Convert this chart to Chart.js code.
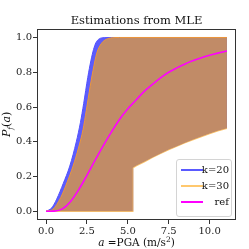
<!DOCTYPE html>
<html>
<head>
<meta charset="utf-8">
<script src="https://cdn.jsdelivr.net/npm/chart.js@4.4.1/dist/chart.umd.min.js"></script>
<style>
  html, body { margin: 0; padding: 0; background: #fff; }
  #wrap { position: relative; width: 249px; height: 249px; }
  #legend {
    position: absolute; left: 176px; top: 159px; width: 56px; height: 58px;
    box-sizing: border-box; border: 1px solid #d4d4d4; border-radius: 3px;
    background: rgba(255, 255, 255, 0.8);
    font-family: "DejaVu Serif"; font-size: 10px; color: #111;
  }
  .row { position: absolute; left: 0; right: 0; height: 12px; }
  .row .ln { position: absolute; left: 4px; width: 22px; height: 2px; top: 5px; }
  .row .tx { position: absolute; right: 2px; top: 0; line-height: 12px; }
</style>
</head>
<body>
<div id="wrap">
  <canvas id="chart" width="249" height="249"></canvas>
  <div id="legend"></div>
</div>
<script>
// reference curve
const xRef = [0, 0.5, 1, 1.5, 2, 2.5, 3, 3.5, 4, 4.5, 5, 5.5, 6, 6.5, 7, 7.5, 8, 8.5, 9, 9.5, 10, 10.5, 11.06];
const pRef = [0, 0.001, 0.014, 0.057, 0.125, 0.207, 0.294, 0.378, 0.457, 0.53, 0.59, 0.64, 0.69, 0.73, 0.768, 0.8, 0.825, 0.848, 0.867, 0.884, 0.898, 0.91, 0.922];

// k=20 band
const xUp20 = [0, 0.35, 0.65, 1.05, 1.45, 1.85, 2.1, 2.3, 2.55, 2.75, 2.9, 3.05, 3.25, 3.55, 4.0, 11.06];
const pUp20 = [0, 0.02, 0.07, 0.16, 0.26, 0.40, 0.51, 0.62, 0.77, 0.87, 0.93, 0.97, 0.992, 0.999, 1, 1];
const xLow20 = [0, 5.3, 5.3, 5.5, 6.0, 6.5, 7.0, 7.5, 8.0, 8.5, 9.0, 9.5, 10.0, 10.5, 11.06];
const pLow20 = [0, 0, 0.252, 0.264, 0.287, 0.312, 0.335, 0.357, 0.377, 0.397, 0.415, 0.432, 0.449, 0.465, 0.48];

// k=30 band
const xUp30 = [0, 0.4, 0.9, 1.3, 1.65, 2.0, 2.26, 2.46, 2.7, 2.87, 3.1, 3.38, 3.6, 3.93, 4.5, 11.06];
const pUp30 = [0, 0.01, 0.08, 0.17, 0.26, 0.37, 0.47, 0.58, 0.72, 0.81, 0.91, 0.965, 0.985, 0.997, 1, 1];
const xLow30 = [0, 5.3, 5.3, 5.5, 6.0, 6.5, 7.0, 7.5, 8.0, 8.5, 9.0, 9.5, 10.0, 10.5, 11.06];
const pLow30 = [0, 0, 0.25, 0.262, 0.285, 0.31, 0.333, 0.355, 0.375, 0.395, 0.413, 0.43, 0.447, 0.463, 0.478];

const xTicks = [0, 2.5, 5, 7.5, 10];
const yTicks = [0, 0.2, 0.4, 0.6, 0.8, 1.0];
const legendLabels = ["k=20", "k=30", "ref"];
const legendColors = ["rgb(90,90,255)", "rgb(255,200,110)", "rgb(255,0,255)"];

const pts = (xs, ys) => xs.map((x, i) => ({ x: x, y: ys[i] }));
const serif = "DejaVu Serif";

// frame + axis titles with math-like styling
const decorations = {
  id: "decorations",
  afterDatasetsDraw(chart) {
    const { ctx, chartArea: a } = chart;
    ctx.save();
    ctx.strokeStyle = "#333";
    ctx.lineWidth = 1;
    ctx.strokeRect(Math.round(a.left) + 0.5, Math.round(a.top) + 0.5,
      Math.round(a.right - a.left) - 1, Math.round(a.bottom - a.top) - 1);
    ctx.restore();
  },
  afterDraw(chart) {
    const { ctx, chartArea: a } = chart;
    ctx.save();
    ctx.fillStyle = "#111";
    ctx.textBaseline = "alphabetic";

    // x title: a =PGA (m/s^2)
    const it = "italic 10.5px " + serif, rm = "10.5px " + serif, sm = "7.5px " + serif;
    const parts = [[it, "a", 0], [rm, " =PGA (m/s", 0], [sm, "2", -4], [rm, ")", 0]];
    let w = 0;
    parts.forEach(p => { ctx.font = p[0]; w += ctx.measureText(p[1]).width; });
    let x = (a.left + a.right) / 2 - w / 2;
    parts.forEach(p => { ctx.font = p[0]; ctx.fillText(p[1], x, 246 + p[2]); x += ctx.measureText(p[1]).width; });

    // y title: P_f(a)
    const yp = [["italic 11px " + serif, "P", 0], ["italic 7.5px " + serif, "f", 2.5],
      ["11px " + serif, "(", 0], ["italic 11px " + serif, "a", 0], ["11px " + serif, ")", 0]];
    w = 0;
    yp.forEach(p => { ctx.font = p[0]; w += ctx.measureText(p[1]).width; });
    ctx.translate(10, (a.top + a.bottom) / 2);
    ctx.rotate(-Math.PI / 2);
    x = -w / 2;
    yp.forEach(p => { ctx.font = p[0]; ctx.fillText(p[1], x, p[2]); x += ctx.measureText(p[1]).width; });
    ctx.restore();
  }
};

new Chart(document.getElementById("chart"), {
  type: "line",
  data: {
    datasets: [
      {
        label: "ref", data: pts(xRef, pRef), borderColor: "rgb(255,0,255)", borderWidth: 1.6,
        pointRadius: 0, fill: false, cubicInterpolationMode: "monotone", order: 0
      },
      {
        label: "k=30", data: pts(xUp30, pUp30), borderColor: "rgb(235,150,60)", borderWidth: 1,
        backgroundColor: "rgb(193,139,103)", pointRadius: 0, fill: 2,
        cubicInterpolationMode: "monotone", order: 1
      },
      {
        label: "k=30 low", data: pts(xLow30, pLow30), borderColor: "rgb(255,200,110)", borderWidth: 1.5,
        pointRadius: 0, fill: false, tension: 0, order: 1
      },
      {
        label: "k=20", data: pts(xUp20, pUp20), borderColor: "rgb(80,80,255)", borderWidth: 1,
        backgroundColor: "rgb(92,92,252)", pointRadius: 0, fill: 4,
        cubicInterpolationMode: "monotone", order: 2
      },
      {
        label: "k=20 low", data: pts(xLow20, pLow20), borderColor: "rgb(80,80,255)", borderWidth: 1,
        pointRadius: 0, fill: false, tension: 0, order: 2
      }
    ]
  },
  options: {
    responsive: false,
    animation: false,
    events: [],
    devicePixelRatio: 1,
    layout: { padding: { left: 0, right: 13, top: 0, bottom: 0 } },
    plugins: {
      legend: { display: false },
      tooltip: { enabled: false },
      title: {
        display: true, text: "Estimations from MLE", color: "#111", fullSize: false,
        font: { family: serif, size: 11.5, weight: "normal" },
        padding: { top: 14, bottom: 1 }
      }
    },
    scales: {
      x: {
        type: "linear", min: -0.553, max: 11.613,
        afterBuildTicks: s => { s.ticks = xTicks.map(v => ({ value: v })); },
        afterFit: s => { s.height = 29; },
        ticks: { color: "#222", font: { family: serif, size: 10 }, padding: 1, maxRotation: 0,
          callback: v => v.toFixed(1) },
        grid: { drawOnChartArea: false, drawTicks: true, tickLength: 4, color: "#333" },
        border: { display: false }
      },
      y: {
        type: "linear", min: -0.05, max: 1.05,
        afterBuildTicks: s => { s.ticks = yTicks.map(v => ({ value: v })); },
        afterFit: s => { s.width = 37; },
        ticks: { color: "#222", font: { family: serif, size: 10 }, padding: 1,
          callback: v => v.toFixed(1) },
        grid: { drawOnChartArea: false, drawTicks: true, tickLength: 4, color: "#333" },
        border: { display: false }
      }
    }
  },
  plugins: [decorations]
});

// legend box inside the axes, lower right
const legend = document.getElementById("legend");
legendLabels.forEach((lab, i) => {
  const row = document.createElement("div");
  row.className = "row";
  row.style.top = (4 + i * 16) + "px";
  row.innerHTML = '<span class="ln" style="background:' + legendColors[i] + '"></span><span class="tx">' + lab + "</span>";
  legend.appendChild(row);
});
</script>
</body>
</html>
